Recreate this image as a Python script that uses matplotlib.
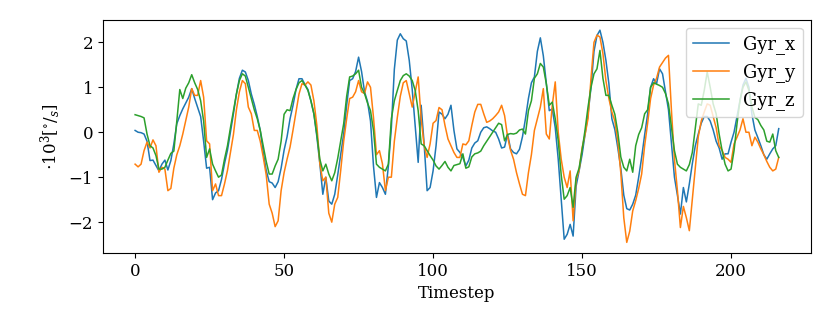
import numpy as np
import matplotlib
matplotlib.use("Agg")
import matplotlib.pyplot as plt

# gyroscope readings, scaled by 10^3 deg/s, one value per timestep
gyr_x = [
    0.04, 0.0, -0.01, -0.04, -0.2, -0.63, -0.62, -0.74, -0.86, -0.71,
    -0.62, -0.84, -0.63, -0.26, 0.19, 0.37, 0.52, 0.65, 0.78, 0.97,
    0.75, 0.55, 0.35, -0.2, -0.8, -0.78, -1.5, -1.35, -1.3, -1.05,
    -0.7, -0.4, 0.0, 0.41, 0.85, 1.2, 1.38, 1.34, 1.15, 0.85,
    0.62, 0.35, 0.04, -0.45, -0.85, -1.1, -1.13, -1.23, -1.1, -0.8,
    -0.4, -0.1, 0.3, 0.6, 0.95, 1.19, 1.19, 1.06, 0.95, 0.7,
    0.41, -0.1, -0.7, -1.38, -1.0, -1.53, -1.6, -1.38, -0.95, -0.5,
    -0.04, 0.6, 1.15, 1.19, 1.35, 1.67, 1.35, 0.9, 0.68, 0.25,
    -0.75, -1.45, -1.12, -1.23, -1.38, -0.75, 0.1, 1.4, 2.05, 2.19,
    2.08, 2.03, 1.6, 0.95, 0.15, -0.67, 0.6, -0.26, -1.3, -1.23,
    -0.86, -0.3, 0.45, 0.4, 0.3, 0.4, 0.6, 0.04, -0.37, -0.45,
    -0.56, -0.75, -0.62, -0.35, -0.24, -0.19, 0.0, 0.1, 0.12, 0.08,
    0.03, 0.0, -0.15, -0.35, -0.33, -0.04, -0.37, -0.45, -0.48, -0.38,
    -0.1, 0.3, 0.75, 1.1, 1.23, 1.8, 2.1, 1.7, 1.1, 0.48,
    0.52, 0.1, -0.6, -1.5, -2.38, -2.27, -2.05, -2.31, -1.2, -0.86,
    -0.5, -0.05, 0.4, 1.0, 1.8, 2.15, 2.27, 2.0, 1.6, 1.08,
    0.3, 0.06, -0.35, -0.8, -1.4, -1.7, -1.73, -1.6, -1.4, -1.0,
    -0.56, -0.06, 0.4, 1.0, 1.19, 1.08, 1.41, 1.3, 0.9, 0.5,
    -0.26, -1.0, -1.4, -1.82, -1.23, -1.55, -1.15, -0.7, -0.3, -0.04,
    0.2, 0.35, 0.35, 0.25, 0.05, -0.2, -0.35, -0.6, -0.48, -0.48,
    -0.22, 0.0, 0.35, 0.7, 1.05, 1.2, 1.0, 0.4, 0.05, -0.12,
    -0.3, -0.5, -0.6, -0.48, -0.37, -0.3, 0.08,
]
gyr_y = [
    -0.71, -0.77, -0.71, -0.41, -0.22, -0.35, -0.17, -0.3, -0.89, -0.78,
    -0.82, -1.3, -1.25, -0.8, -0.5, -0.3, -0.04, 0.26, 0.56, 0.97,
    0.82, 0.82, 1.15, 0.78, -0.19, -0.26, -1.3, -1.15, -1.41, -1.41,
    -1.15, -0.85, -0.45, -0.05, 0.5, 0.9, 1.15, 1.08, 0.56, 0.41,
    0.04, 0.04, -0.2, -0.55, -0.95, -1.6, -1.8, -2.1, -1.97, -1.3,
    -0.9, -0.6, -0.33, 0.05, 0.45, 0.85, 1.08, 1.05, 1.12, 1.05,
    0.7, 0.15, -0.7, -1.08, -1.0, -1.8, -2.0, -1.6, -1.45, -0.85,
    -0.2, 0.3, 0.75, 0.78, 0.9, 1.15, 0.9, 0.86, 1.12, 1.0,
    0.33, -0.5, -0.41, -0.7, -1.3, -1.0, -1.0, -0.2, 0.33, 0.8,
    1.1, 1.15, 0.86, 0.56, 0.9, 1.23, 0.3, -0.3, -0.56, -0.26,
    0.2, 0.26, 0.55, 0.5, 0.15, -0.15, -0.3, -0.45, -0.56, -0.56,
    -0.26, -0.28, -0.19, 0.15, 0.45, 0.62, 0.62, 0.41, 0.22, 0.25,
    0.3, 0.37, 0.45, 0.6, 0.37, -0.1, -0.4, -0.6, -0.9, -1.15,
    -1.38, -1.41, -0.9, -0.5, 0.04, 0.3, 0.56, 0.97, -0.04, -0.15,
    0.6, 1.12, 0.0, -0.6, -1.0, -1.23, -0.86, -1.97, -1.05, -0.85,
    -0.35, -0.05, 0.3, 1.2, 2.0, 2.16, 2.12, 1.75, 1.15, 0.75,
    0.45, 0.25, -0.2, -0.9, -1.9, -2.45, -2.2, -1.75, -1.52, -1.25,
    -0.93, -0.3, 0.2, 0.75, 1.05, 1.2, 1.45, 1.55, 1.65, 1.71,
    0.48, -0.6, -1.3, -2.12, -1.65, -1.9, -2.19, -1.5, -0.8, -0.1,
    0.25, 0.45, 0.63, 0.6, 0.35, 0.1, -0.3, -0.4, -0.56, -0.6,
    -0.67, -0.26, -0.11, 0.05, 0.3, 0.0, 0.0, -0.3, -0.11, -0.22,
    -0.37, -0.5, -0.65, -0.78, -0.86, -0.82, -0.56,
]
gyr_z = [
    0.39, 0.37, 0.35, 0.32, -0.04, -0.3, -0.35, -0.52, -0.82, -0.82,
    -0.78, -0.62, -0.47, -0.42, 0.25, 0.95, 0.75, 0.98, 1.1, 1.28,
    1.1, 0.95, 0.7, 0.25, -0.56, -0.37, -0.71, -0.86, -1.0, -0.95,
    -0.6, -0.3, 0.1, 0.48, 0.85, 1.15, 1.3, 1.25, 1.0, 0.75,
    0.5, 0.3, 0.04, -0.3, -0.65, -0.93, -0.93, -0.75, -0.6, -0.2,
    0.4, 0.5, 0.48, 0.75, 0.95, 1.1, 1.15, 1.05, 0.93, 0.7,
    0.41, -0.05, -0.6, -0.86, -0.71, -0.93, -1.08, -0.9, -0.58, -0.2,
    0.19, 0.8, 1.23, 1.25, 1.3, 1.38, 1.0, 0.86, 0.65, 0.48,
    0.04, -0.71, -0.78, -0.82, -0.86, -0.71, 0.3, 0.7, 0.93, 1.15,
    1.26, 1.3, 1.25, 1.15, 0.93, 0.48, -0.26, -0.3, -0.41, -0.52,
    -0.62, -0.75, -0.82, -0.74, -0.65, -0.78, -0.86, -0.74, -0.72, -0.7,
    -0.48, -0.8, -0.77, -0.55, -0.48, -0.46, -0.42, -0.3, -0.2, -0.1,
    0.0, 0.1, 0.2, 0.17, -0.19, -0.05, -0.03, -0.04, -0.02, 0.05,
    0.07, -0.04, 0.48, 0.7, 1.2, 1.3, 1.53, 1.45, 1.08, 0.6,
    0.67, 0.3, -0.19, -0.95, -1.49, -1.41, -1.23, -1.67, -1.0, -0.8,
    -0.4, 0.05, 0.56, 1.0, 1.3, 1.41, 1.82, 1.2, 0.82, 0.82,
    0.6, 0.4, 0.0, -0.55, -0.78, -0.86, -0.6, -0.89, -0.3, -0.05,
    0.1, 0.41, 0.5, 1.0, 1.1, 1.07, 1.04, 1.0, 0.86, 0.63,
    0.11, -0.41, -0.71, -0.78, -0.82, -0.86, -0.72, -0.45, 0.1, 0.63,
    0.6, 0.93, 1.34, 1.0, 0.63, 0.41, -0.04, -0.41, -0.71, -0.86,
    -0.82, -0.41, 0.19, 0.71, 1.0, 1.12, 0.93, 0.56, 0.33, 0.28,
    0.15, 0.05, -0.2, -0.22, -0.04, -0.41, -0.56,
]
labels = ["Gyr_x", "Gyr_y", "Gyr_z"]

plt.rcParams["font.family"] = "DejaVu Serif"
plt.rcParams["mathtext.fontset"] = "dejavuserif"
plt.rcParams["font.size"] = 12

fig = plt.figure(figsize=(8.3, 3.32), dpi=100)
ax = fig.add_axes([0.124, 0.238, 0.853, 0.703])

for series, label in zip([gyr_x, gyr_y, gyr_z], labels):
    ax.plot(np.arange(len(series)), series, label=label, linewidth=1.1)

ax.set_xlabel("Timestep")
ax.set_ylabel(r"$\cdot 10^3 [^{\circ}/_{s}]$")
ax.legend(loc="upper right", fontsize=13, borderaxespad=0.45)

fig.savefig("out.png", dpi=100)
